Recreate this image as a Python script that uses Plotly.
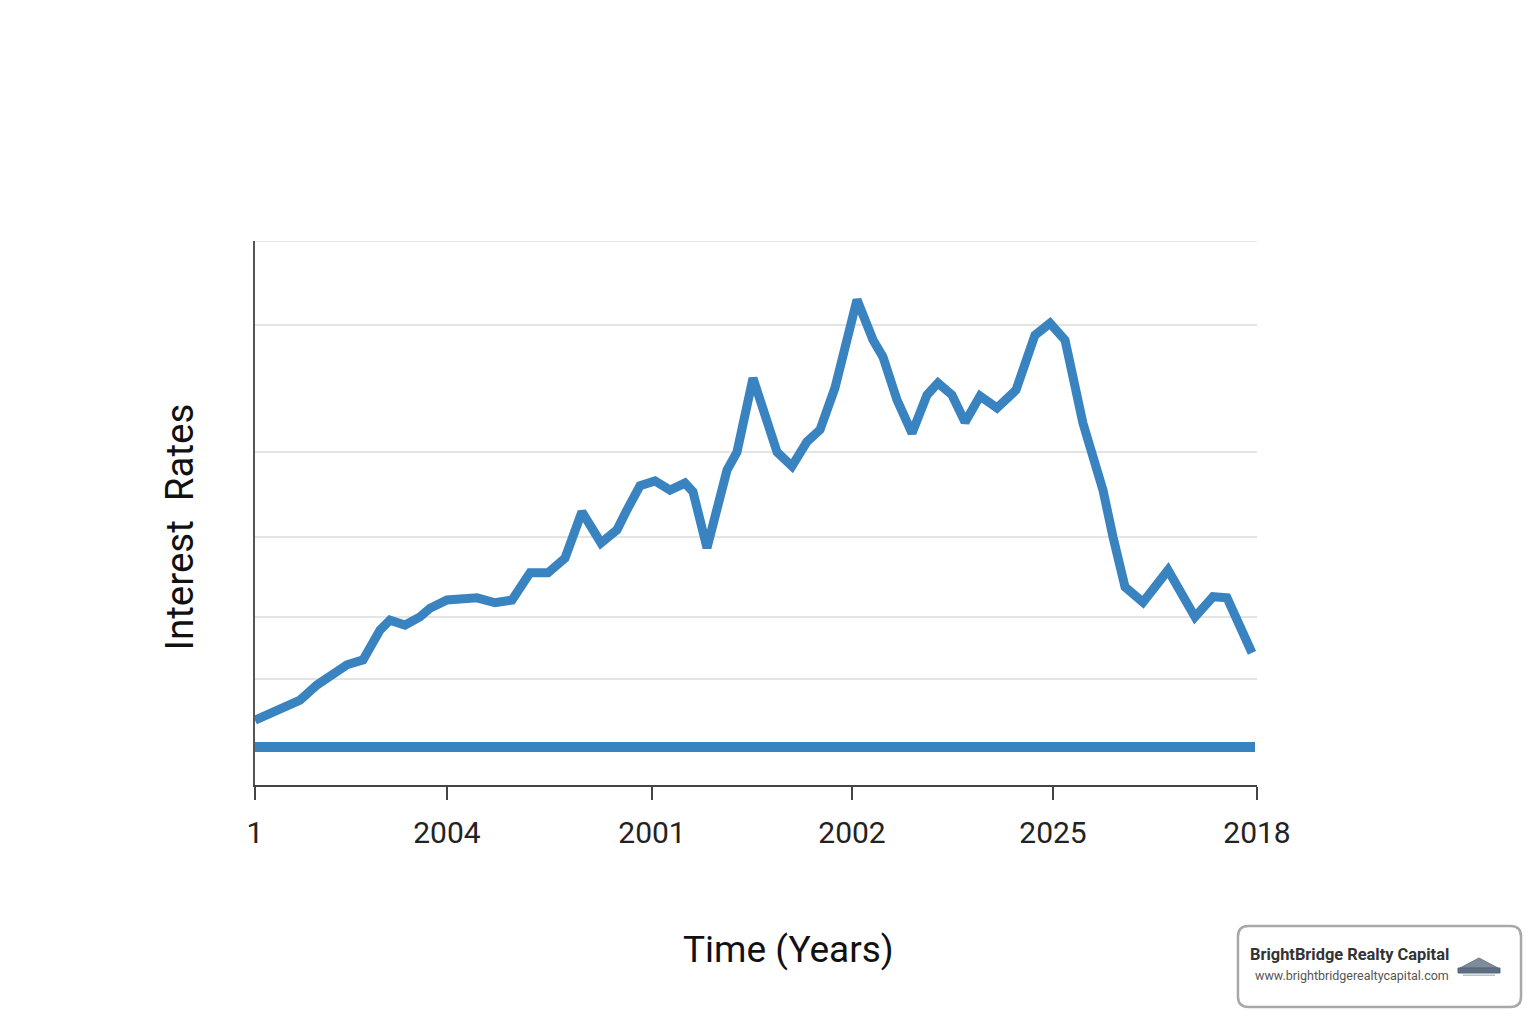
import plotly.graph_objects as go

# ---- data ----
time_pos = [0.0, 2.50, 4.49, 6.19, 9.18, 10.78, 12.48, 13.47, 14.97, 16.47,
            17.47, 19.16, 20.46, 22.16, 23.95, 25.65, 27.45, 29.24, 30.94, 32.63,
            34.53, 36.13, 37.13, 38.42, 39.92, 41.42, 42.91, 43.71, 45.11, 47.11,
            48.10, 49.70, 52.10, 53.59, 55.09, 56.39, 57.88, 60.08, 61.68, 62.67,
            64.07, 65.57, 67.07, 68.16, 69.56, 70.86, 72.36, 74.05, 75.95, 77.84,
            79.34, 80.84, 82.63, 84.63, 85.63, 86.83, 88.62, 91.12, 93.81, 95.61,
            97.01, 99.50]
rates = [1.19, 1.38, 1.56, 1.84, 2.21, 2.30, 2.85, 3.03, 2.94, 3.09,
         3.25, 3.40, 3.40, 3.44, 3.35, 3.40, 3.90, 3.90, 4.17, 5.02,
         4.45, 4.69, 5.06, 5.50, 5.59, 5.42, 5.55, 5.39, 4.36, 5.79,
         6.12, 7.48, 6.12, 5.86, 6.31, 6.53, 7.30, 8.92, 8.18, 7.87,
         7.08, 6.47, 7.17, 7.39, 7.17, 6.67, 7.15, 6.93, 7.26, 8.27,
         8.49, 8.18, 6.65, 5.42, 4.56, 3.64, 3.36, 3.95, 3.09, 3.46,
         3.44, 2.43]
baseline_x = [0.0, 99.8]
baseline_y = [0.70, 0.70]

tick_positions = [0.0, 19.16, 39.62, 59.58, 79.64, 100.0]
tick_labels = ["1", "2004", "2001", "2002", "2025", "2018"]
grid_values = [1.949, 3.088, 4.559, 6.121, 8.456, 10.0]

BLUE = "#3a83c1"
FONT = "Roboto"

fig = go.Figure()
fig.add_trace(go.Scatter(x=baseline_x, y=baseline_y, mode="lines",
                         line=dict(color=BLUE, width=10), hoverinfo="skip",
                         showlegend=False))
fig.add_trace(go.Scatter(x=time_pos, y=rates, mode="lines",
                         line=dict(color=BLUE, width=9), showlegend=False))

fig.update_layout(
    width=1536, height=1024,
    margin=dict(l=247, r=287, t=233, b=247),
    paper_bgcolor="white", plot_bgcolor="white",
    font=dict(family=FONT, color="#222222"),
    xaxis=dict(range=[0, 100], tickmode="array", tickvals=tick_positions,
               ticktext=tick_labels, ticks="outside", ticklen=13, tickwidth=2,
               tickcolor="#444444", showline=True, linecolor="#444444",
               linewidth=2, showgrid=False, zeroline=False, ticklabelstandoff=7,
               tickfont=dict(size=30, color="#222222", family=FONT)),
    yaxis=dict(range=[0, 10], tickmode="array", tickvals=grid_values,
               ticktext=[""] * len(grid_values), showgrid=True,
               gridcolor="#e4e4e4", gridwidth=2, showline=True,
               linecolor="#555555", linewidth=2, zeroline=False, ticks=""),
    annotations=[
        dict(text="Time (Years)", xref="paper", yref="paper", x=0.532, y=-0.303,
             showarrow=False, font=dict(size=37, color="#111111", family=FONT),
             xanchor="center", yanchor="middle"),
        dict(text="Interest&nbsp;&nbsp;Rates", xref="paper", yref="paper", x=-0.0749, y=0.475,
             showarrow=False, textangle=-90,
             font=dict(size=38.5, color="#111111", family=FONT),
             xanchor="center", yanchor="middle"),
        dict(text="<b>BrightBridge Realty Capital</b>", xref="paper", yref="paper",
             x=0.991, y=-0.3107, showarrow=False, xanchor="left", yanchor="middle",
             font=dict(size=16.4, color="#333333", family=FONT)),
        dict(text="www.brightbridgerealtycapital.com", xref="paper", yref="paper",
             x=0.996, y=-0.3511, showarrow=False, xanchor="left", yanchor="middle",
             font=dict(size=12.5, color="#555555", family=FONT)),
    ],
)

# top gridline (at the range edge)
fig.add_shape(type="line", xref="paper", yref="y", x0=0, x1=1, y0=10, y1=10,
              line=dict(color="#e4e4e4", width=2), layer="below")

# logo box (rounded rectangle) in paper coords
x0, x1, y0, y1 = 0.981, 1.2635, -0.4081, -0.2592
rx, ry = 0.0105, 0.0193
path = (f"M {x0+rx},{y1} L {x1-rx},{y1} Q {x1},{y1} {x1},{y1-ry} "
        f"L {x1},{y0+ry} Q {x1},{y0} {x1-rx},{y0} L {x0+rx},{y0} "
        f"Q {x0},{y0} {x0},{y0+ry} L {x0},{y1-ry} Q {x0},{y1} {x0+rx},{y1} Z")
fig.add_shape(type="path", path=path, xref="paper", yref="paper",
              line=dict(color="#a8a8a8", width=2.5), fillcolor="white")

# small logo icon (roof over a bridge)
def px(x):
    return (x - 255) / 1002
def py(y):
    return (785 - y) / 544
roof = (f"M {px(1460)},{py(968)} L {px(1479)},{py(958)} L {px(1498)},{py(968)} Z")
fig.add_shape(type="path", path=roof, xref="paper", yref="paper",
              line=dict(color="#6f7c8a", width=1), fillcolor="#7f8b98")
fig.add_shape(type="rect", xref="paper", yref="paper",
              x0=px(1458), x1=px(1500), y0=py(973), y1=py(968),
              line=dict(color="#56667a", width=1), fillcolor="#5f6f82")
fig.add_shape(type="rect", xref="paper", yref="paper",
              x0=px(1463), x1=px(1495), y0=py(976), y1=py(974.5),
              line=dict(width=0), fillcolor="#b8c0c8")

fig.write_html("out.html")
